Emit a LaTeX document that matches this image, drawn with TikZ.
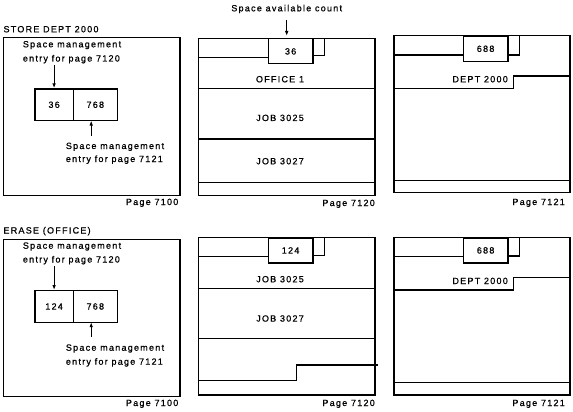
\documentclass[tikz,border=0pt]{standalone}
\usepackage{fontspec}
\setmainfont{Liberation Sans}[LetterSpace=14,FakeBold=0.8]
\usetikzlibrary{arrows.meta}
\begin{document}
\begin{tikzpicture}[x=1pt,y=-1pt,
  lbl/.style={font=\fontsize{9}{12}\selectfont, inner sep=0pt},
  ln/.style={line width=1.2pt, line cap=rect},
  cell/.style={draw, line width=1.2pt, inner sep=0pt, font=\fontsize{9}{12}\selectfont, anchor=north west},
  arr/.style={line width=1.1pt, -{Latex[length=5pt,width=3.6pt]}}]
\useasboundingbox (0,0) rectangle (573,412);

% ===================== TOP ROW =====================
\node[lbl, anchor=base west] (ttl1) at (3.3,32.3) {STORE DEPT 2000};
% page 7100
\draw[ln] (3.3,37.7) rectangle (180,195.6);
\node[lbl, anchor=base west] (a1l1) at (22.7,47.3) {Space management};
\node[lbl, anchor=base west] (a1l2) at (22.7,61.5) {entry for page 7120};
\node[cell, minimum width=38.4pt, minimum height=31.7pt] (a1c1) at (34.3,88.3) {36};
\node[cell, minimum width=44pt, minimum height=31.7pt] (a1c2) at (72.7,88.3) {768};
\node[lbl, anchor=base west] (a1l3) at (65.7,149) {Space management};
\node[lbl, anchor=base west] (a1l4) at (65.7,162) {entry for page 7121};
\coordinate (a1t) at (91.2,120.5);
\draw[arr] ([yshift=-1.5pt]a1l2.south -| a1c1.north) -- (a1c1.north);
\draw[arr] ([yshift=7pt]a1l3.north -| a1t) -- (a1t);
\node[lbl, anchor=base east] (a1pg) at (178.5,205) {Page 7100};

% page 7120
\draw[ln] (198.3,38.3) rectangle (375,195.7);
\node[lbl, anchor=base] (b1cap) at (286.7,11.3) {Space available count};
\node[cell, minimum width=44.6pt, minimum height=25pt] (b1c) at (267.7,38.3) {36};
\coordinate (b1t) at (286.7,36);
\draw[arr] ([yshift=-7pt]b1cap.south) -- (b1t);
\draw[ln] (198.3,57.3) -- (b1c.west |- 198.3,57.3);
\draw[ln] (312.3,55.7) -- (324.3,55.7) -- (324.3,38.3);
\node[lbl, anchor=base] (b1o) at (280,82.3) {OFFICE 1};
\draw[ln] (198.3,88.3) -- (375,88.3);
\node[lbl, anchor=base] (b1j1) at (280,121) {JOB 3025};
\draw[ln] (198.3,139) -- (375,139);
\node[lbl, anchor=base] (b1j2) at (280,164.3) {JOB 3027};
\draw[ln] (198.3,182.3) -- (375,182.3);
\node[lbl, anchor=base east] (b1pg) at (375,206) {Page 7120};

% page 7121
\draw[ln] (394,35.7) rectangle (570,192.7);
\node[cell, minimum width=44.6pt, minimum height=25pt] (c1c) at (462.7,35.7) {688};
\draw[ln] (394,55) -- (462.7,55);
\draw[ln] (507.3,55) -- (519.3,55) -- (519.3,35.7);
\node[lbl, anchor=base east] (c1d) at (508,82.3) {DEPT 2000};
\draw[ln] (394,88.3) -- (513.3,88.3) -- (513.3,76) -- (570,76);
\draw[ln] (394,180.3) -- (570,180.3);
\node[lbl, anchor=base east] (c1pg) at (565,205) {Page 7121};

% ===================== BOTTOM ROW =====================
\node[lbl, anchor=base west] (ttl2) at (3.3,233.5) {ERASE (OFFICE)};
% page 7100
\draw[ln] (3.3,239.3) rectangle (180,396.7);
\node[lbl, anchor=base west] (a2l1) at (22.7,248.7) {Space management};
\node[lbl, anchor=base west] (a2l2) at (22.7,262.5) {entry for page 7120};
\node[cell, minimum width=38.4pt, minimum height=31.7pt] (a2c1) at (34.3,290) {124};
\node[cell, minimum width=44pt, minimum height=31.7pt] (a2c2) at (72.7,290) {768};
\node[lbl, anchor=base west] (a2l3) at (65.7,350.7) {Space management};
\node[lbl, anchor=base west] (a2l4) at (65.7,364.7) {entry for page 7121};
\coordinate (a2t) at (91.2,322.2);
\draw[arr] ([yshift=-1.5pt]a2l2.south -| a2c1.north) -- (a2c1.north);
\draw[arr] ([yshift=7pt]a2l3.north -| a2t) -- (a2t);
\node[lbl, anchor=base east] (a2pg) at (178.5,406) {Page 7100};

% page 7120
\draw[ln] (198.3,237.3) rectangle (375,395);
\node[cell, minimum width=44.6pt, minimum height=25pt] (b2c) at (267.7,237.3) {124};
\draw[ln] (198.3,256.7) -- (267.7,256.7);
\draw[ln] (312.3,255.7) -- (324.3,255.7) -- (324.3,237.3);
\node[lbl, anchor=base] (b2j1) at (280,282.3) {JOB 3025};
\draw[ln] (198.3,288.3) -- (375,288.3);
\node[lbl, anchor=base] (b2j2) at (280,321.6) {JOB 3027};
\draw[ln] (198.3,338.3) -- (375,338.3);
\draw[ln] (198.3,380.7) -- (296.7,380.7) -- (296.7,365) -- (377.3,365);
\node[lbl, anchor=base east] (b2pg) at (375,406) {Page 7120};

% page 7121
\draw[ln] (394,237.3) rectangle (570,395);
\node[cell, minimum width=44.6pt, minimum height=25pt] (c2c) at (462.7,237.3) {688};
\draw[ln] (394,256.7) -- (462.7,256.7);
\draw[ln] (507.3,256) -- (519.3,256) -- (519.3,237.3);
\node[lbl, anchor=base east] (c2d) at (508,284) {DEPT 2000};
\draw[ln] (394,290) -- (513.3,290) -- (513.3,277.3) -- (570,277.3);
\draw[ln] (394,382.3) -- (570,382.3);
\node[lbl, anchor=base east] (c2pg) at (565,406) {Page 7121};
\end{tikzpicture}
\end{document}
